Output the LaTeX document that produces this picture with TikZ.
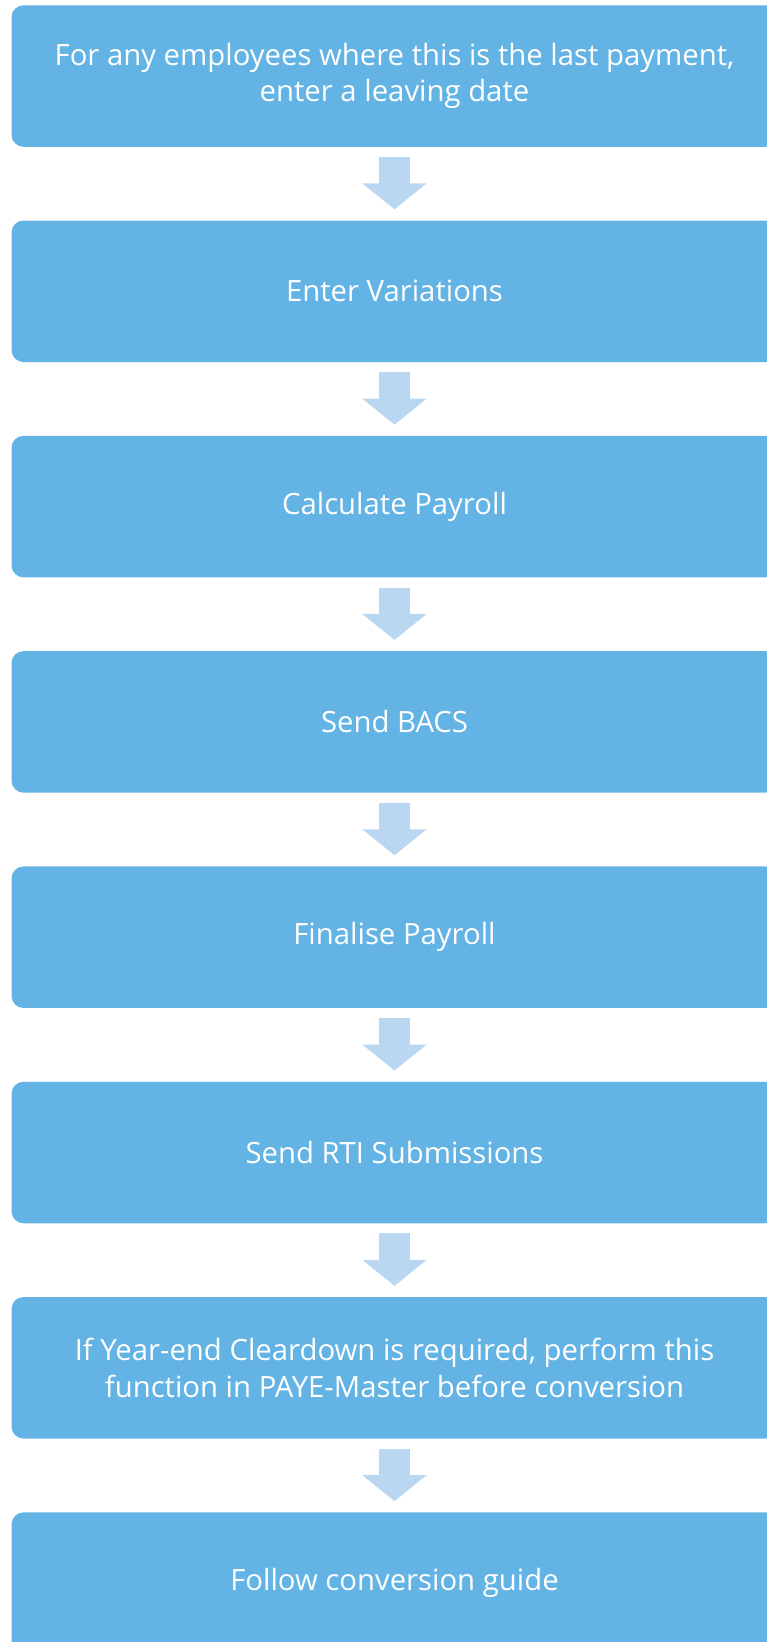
\documentclass[tikz,border=0pt]{standalone}
\usepackage{fontspec}
\setmainfont{Open Sans}
\usepackage{tikz}
\usetikzlibrary{arrows.meta,positioning}

\definecolor{stepblue}{HTML}{63B3E4}
\definecolor{arrowblue}{HTML}{B9D7F0}

\begin{document}
\begin{tikzpicture}[x=1pt, y=1pt, node distance = 73.4pt, font=\fontsize{29.3}{36.7}\selectfont]
\tikzstyle{stepbox}=[fill=stepblue, draw=none, text=white, rounded corners=12pt, minimum width=766pt, minimum height=141.5pt, align=center, inner sep=0pt]
\tikzstyle{flow}=[draw=arrowblue, line width=30.5pt, -{Triangle[width=63pt, length=26pt]}, arrowblue, shorten <= 10pt, shorten >= 11pt]

\useasboundingbox (0,0) rectangle (767,-1642);

\node[stepbox]	(s1) at (394.5,-76)	{For any employees where this is the last payment,\\enter a leaving date};
\node[stepbox]	(s2) [below=of s1]	{Enter Variations};
\node[stepbox]	(s3) [below=of s2]	{Calculate Payroll};
\node[stepbox]	(s4) [below=of s3]	{Send BACS};
\node[stepbox]	(s5) [below=of s4]	{Finalise Payroll};
\node[stepbox]	(s6) [below=of s5]	{Send RTI Submissions};
\node[stepbox]	(s7) [below=of s6]	{If Year-end Cleardown is required, perform this\\function in PAYE-Master before conversion};
\node[stepbox]	(s8) [below=of s7]	{Follow conversion guide};

\path[flow]
	(s1) edge (s2)
	(s2) edge (s3)
	(s3) edge (s4)
	(s4) edge (s5)
	(s5) edge (s6)
	(s6) edge (s7)
	(s7) edge (s8)
;

\end{tikzpicture}
\end{document}
